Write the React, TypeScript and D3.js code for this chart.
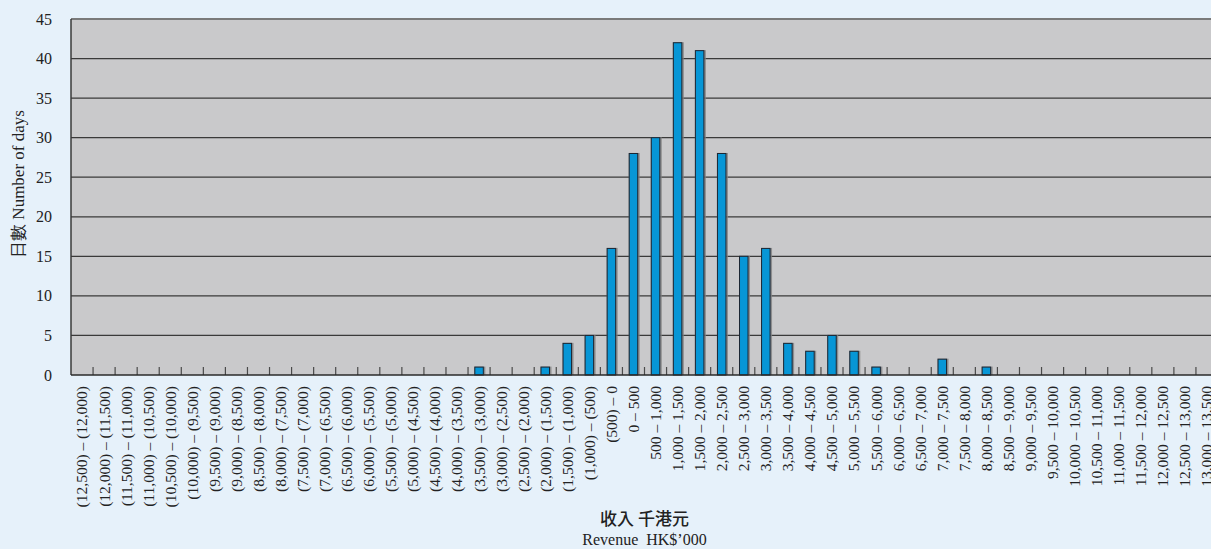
import { useEffect, useRef } from 'react'
import * as d3 from 'd3'

const categories = [
  '(12,500) – (12,000)', '(12,000) – (11,500)', '(11,500) – (11,000)', '(11,000) – (10,500)',
  '(10,500) – (10,000)', '(10,000) – (9,500)', '(9,500) – (9,000)', '(9,000) – (8,500)',
  '(8,500) – (8,000)', '(8,000) – (7,500)', '(7,500) – (7,000)', '(7,000) – (6,500)',
  '(6,500) – (6,000)', '(6,000) – (5,500)', '(5,500) – (5,000)', '(5,000) – (4,500)',
  '(4,500) – (4,000)', '(4,000) – (3,500)', '(3,500) – (3,000)', '(3,000) – (2,500)',
  '(2,500) – (2,000)', '(2,000) – (1,500)', '(1,500) – (1,000)', '(1,000) – (500)',
  '(500) – 0', '0 – 500', '500 – 1,000', '1,000 – 1,500', '1,500 – 2,000',
  '2,000 – 2,500', '2,500 – 3,000', '3,000 – 3,500', '3,500 – 4,000', '4,000 – 4,500',
  '4,500 – 5,000', '5,000 – 5,500', '5,500 – 6,000', '6,000 – 6,500', '6,500 – 7,000',
  '7,000 – 7,500', '7,500 – 8,000', '8,000 – 8,500', '8,500 – 9,000', '9,000 – 9,500',
  '9,500 – 10,000', '10,000 – 10,500', '10,500 – 11,000', '11,000 – 11,500',
  '11,500 – 12,000', '12,000 – 12,500', '12,500 – 13,000', '13,000 – 13,500',
]

const days = [
  0, 0, 0, 0, 0, 0, 0, 0, 0, 0, 0, 0, 0, 0, 0, 0, 0, 0, 1, 0, 0, 1, 4, 5, 16,
  28, 30, 42, 41, 28, 15, 16, 4, 3, 5, 3, 1, 0, 0, 2, 0, 1, 0, 0, 0, 0, 0, 0, 0, 0, 0, 0,
]

const yTicks = [0, 5, 10, 15, 20, 25, 30, 35, 40, 45]

const W = 1211
const H = 549
const margin = { top: 19, left: 71, bottom: 174 }
const plotRight = 1218
const font = '"Liberation Serif", "DejaVu Serif", serif'

const App = () => {
  const svgRef = useRef<SVGSVGElement | null>(null)

  useEffect(() => {
    if (!svgRef.current) return
    const svg = d3.select(svgRef.current)
    svg.selectAll('*').remove()

    const height = H - margin.bottom
    const x = d3.scaleBand<string>()
      .domain(categories)
      .range([margin.left, plotRight])
      .paddingInner(0)
    const y = d3.scaleLinear().domain([0, 45]).range([height, margin.top])

    svg.append('rect')
      .attr('width', W).attr('height', H)
      .attr('fill', '#e6f1fa')

    // plot background
    svg.append('rect')
      .attr('x', margin.left).attr('y', margin.top)
      .attr('width', plotRight - margin.left).attr('height', height - margin.top)
      .attr('fill', '#c9c9cb')

    // grid lines
    svg.append('g')
      .selectAll('line')
      .data(yTicks.filter(d => d > 0 && d < 45))
      .join('line')
      .attr('x1', margin.left).attr('x2', plotRight)
      .attr('y1', d => y(d)).attr('y2', d => y(d))
      .attr('stroke', '#3a3a3a')
      .attr('stroke-width', 1.3)

    // top border
    svg.append('line')
      .attr('x1', margin.left).attr('x2', plotRight)
      .attr('y1', y(45)).attr('y2', y(45))
      .attr('stroke', '#7a7a7a').attr('stroke-width', 2)

    // bars
    const bw = 8.5
    const bars = svg.append('g')
    const data = categories.map((c, i) => ({ c, v: days[i] })).filter(d => d.v > 0)
    bars.selectAll('rect.shadow')
      .data(data)
      .join('rect')
      .attr('class', 'shadow')
      .attr('x', d => x(d.c)! + x.bandwidth() / 2 - bw / 2 - 0.5)
      .attr('y', d => y(d.v) - 0.5)
      .attr('width', bw + 2.5)
      .attr('height', d => height - y(d.v) + 0.5)
      .attr('fill', '#7f7f80')
      .attr('opacity', 0.8)
    bars.selectAll('rect.bar')
      .data(data)
      .join('rect')
      .attr('class', 'bar')
      .attr('x', d => x(d.c)! + x.bandwidth() / 2 - bw / 2)
      .attr('y', d => y(d.v))
      .attr('width', bw)
      .attr('height', d => height - y(d.v))
      .attr('fill', '#0796d6')
      .attr('stroke', '#1c2633')
      .attr('stroke-width', 1)

    // category tick marks (inside, upward)
    svg.append('g')
      .selectAll('line')
      .data(categories.slice(1))
      .join('line')
      .attr('x1', d => x(d)!).attr('x2', d => x(d)!)
      .attr('y1', height).attr('y2', height - 8)
      .attr('stroke', '#4a4a4a').attr('stroke-width', 1.2)

    // axes lines
    svg.append('line')
      .attr('x1', margin.left).attr('x2', margin.left)
      .attr('y1', margin.top).attr('y2', height)
      .attr('stroke', '#3a3a3a').attr('stroke-width', 1.5)
    svg.append('line')
      .attr('x1', margin.left).attr('x2', plotRight)
      .attr('y1', height).attr('y2', height)
      .attr('stroke', '#2a2a2a').attr('stroke-width', 1.5)

    // y tick labels
    svg.append('g')
      .selectAll('text')
      .data(yTicks)
      .join('text')
      .attr('x', 52)
      .attr('y', d => y(d))
      .attr('dy', '0.35em')
      .attr('text-anchor', 'end')
      .attr('font-family', font)
      .attr('font-size', 16)
      .attr('fill', '#222')
      .text(d => d)

    // x tick labels
    svg.append('g')
      .selectAll('text')
      .data(categories)
      .join('text')
      .attr('transform', d => `translate(${x(d)! + x.bandwidth() / 2},${height + 11}) rotate(-90)`)
      .attr('dy', '0.35em')
      .attr('text-anchor', 'end')
      .attr('font-family', font)
      .attr('font-size', 15.5)
      .attr('fill', '#222')
      .text(d => d)

    // y axis title
    svg.append('text')
      .attr('transform', `translate(18,184) rotate(-90)`)
      .attr('dy', '0.35em')
      .attr('text-anchor', 'middle')
      .attr('font-family', font)
      .attr('font-size', 17)
      .attr('fill', '#222')
      .text('日數 Number of days')

    // x axis titles
    const cx = (margin.left + plotRight) / 2
    svg.append('text')
      .attr('x', cx).attr('y', 525)
      .attr('text-anchor', 'middle')
      .attr('font-family', '"Noto Sans CJK TC", serif')
      .attr('font-weight', 500)
      .attr('font-size', 17)
      .attr('fill', '#222')
      .style('white-space', 'pre')
      .text('收入 千港元')
    svg.append('text')
      .attr('x', cx).attr('y', 545)
      .attr('text-anchor', 'middle')
      .attr('font-family', font)
      .attr('font-size', 16)
      .attr('fill', '#222')
      .style('white-space', 'pre')
      .text('Revenue  HK$’000')
  }, [])

  return (
    <svg
      ref={svgRef}
      width={W}
      height={H}
      style={{ display: 'block', position: 'fixed', left: 0, top: 0 }}
    />
  )
}

export default App
